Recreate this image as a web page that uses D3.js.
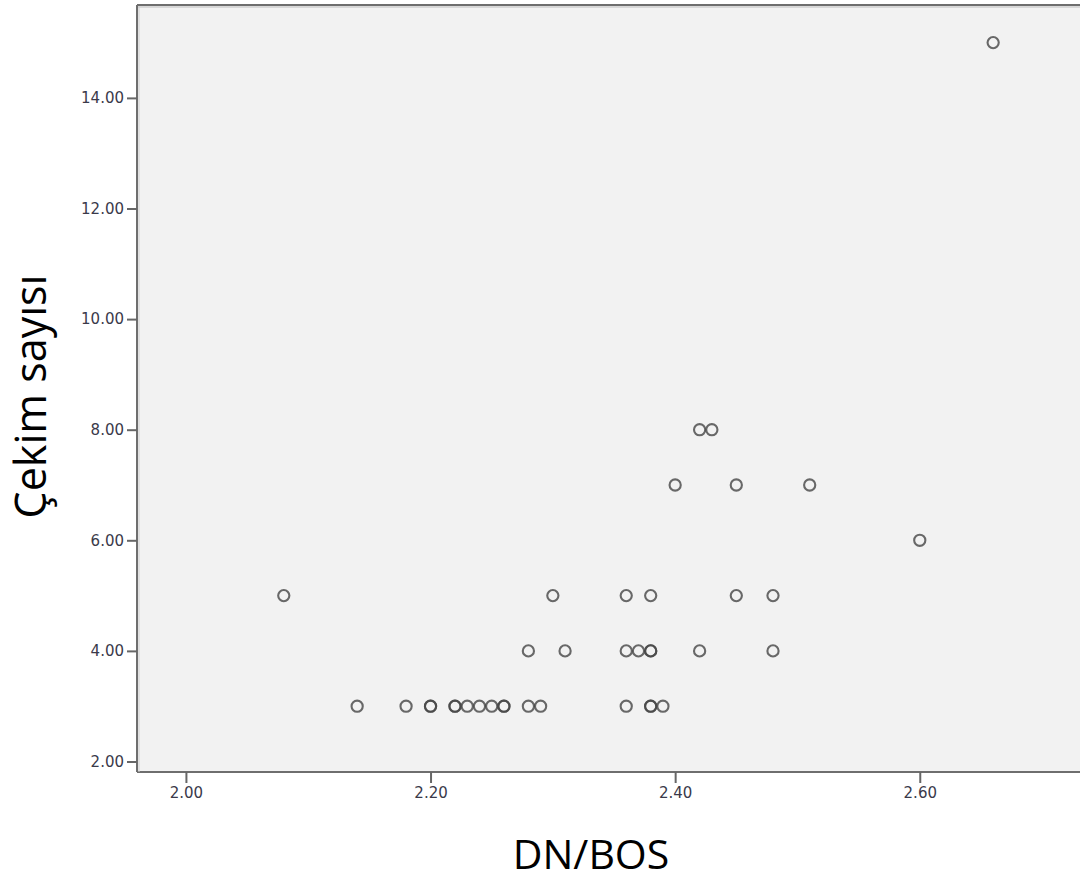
<!DOCTYPE html>
<html>
<head>
<meta charset="utf-8">
<script src="https://cdn.jsdelivr.net/npm/d3@7/dist/d3.min.js"></script>
<style>
  html, body { margin: 0; padding: 0; background: #ffffff; }
  svg { display: block; }
</style>
</head>
<body>
<svg id="chart" width="1080" height="881"></svg>
<script>
// ---- data ----
const dnBos = [
  2.14, 2.18, 2.20, 2.20, 2.22, 2.22, 2.23, 2.24, 2.25, 2.26, 2.26, 2.28, 2.29, 2.36, 2.38, 2.38, 2.39,
  2.28, 2.31, 2.36, 2.37, 2.38, 2.38, 2.42, 2.48,
  2.08, 2.30, 2.36, 2.38, 2.45, 2.48,
  2.60,
  2.40, 2.45, 2.51,
  2.42, 2.43,
  2.66
];
const cekimSayisi = [
  3, 3, 3, 3, 3, 3, 3, 3, 3, 3, 3, 3, 3, 3, 3, 3, 3,
  4, 4, 4, 4, 4, 4, 4, 4,
  5, 5, 5, 5, 5, 5,
  6,
  7, 7, 7,
  8, 8,
  15
];
const xTicks = [2.00, 2.20, 2.40, 2.60];
const yTicks = [2, 4, 6, 8, 10, 12, 14];
const xDomain = [1.96, 2.74];
const yDomain = [1.81, 15.68];
const xTitle = "DN/BOS";
const yTitle = "Çekim sayısı";

// ---- layout ----
const svg = d3.select("#chart");
const mLeft = 137, mTop = 5, mRight = 1091, mBottom = 772;

const x = d3.scaleLinear().domain(xDomain).range([mLeft, mRight]);
const y = d3.scaleLinear().domain(yDomain).range([mBottom, mTop]);

// plot background
svg.append("rect")
  .attr("x", mLeft).attr("y", mTop)
  .attr("width", mRight - mLeft).attr("height", mBottom - mTop)
  .attr("fill", "#f2f2f2");

// frame (top, left, bottom)
const frame = svg.append("g").attr("stroke", "#6e6e6e").attr("stroke-width", 2).attr("fill", "none");
frame.append("line").attr("x1", mLeft).attr("x2", mRight).attr("y1", mTop).attr("y2", mTop);
frame.append("line").attr("x1", mLeft).attr("x2", mLeft).attr("y1", mTop).attr("y2", mBottom);
frame.append("line").attr("x1", mLeft).attr("x2", mRight).attr("y1", mBottom).attr("y2", mBottom);
// soft shadow lines
svg.append("line").attr("x1", mLeft + 1).attr("x2", mRight).attr("y1", mTop + 2).attr("y2", mTop + 2)
  .attr("stroke", "#bdbdbd").attr("stroke-width", 1);
svg.append("line").attr("x1", mLeft + 2).attr("x2", mLeft + 2).attr("y1", mTop + 1).attr("y2", mBottom)
  .attr("stroke", "#cfcfcf").attr("stroke-width", 1);

const fmt = d3.format(".2f");
const tickFont = "'DejaVu Sans', Verdana, sans-serif";

// y axis
const yAxis = svg.append("g")
  .attr("transform", `translate(${mLeft},0)`)
  .call(d3.axisLeft(y).tickValues(yTicks).tickFormat(fmt).tickSize(10).tickPadding(3));
yAxis.select(".domain").remove();

// x axis
const xAxis = svg.append("g")
  .attr("transform", `translate(0,${mBottom})`)
  .call(d3.axisBottom(x).tickValues(xTicks).tickFormat(fmt).tickSize(11).tickPadding(4));
xAxis.select(".domain").remove();

[xAxis, yAxis].forEach(a => {
  a.selectAll(".tick line").attr("stroke", "#666").attr("stroke-width", 2);
  a.selectAll(".tick text")
    .attr("fill", "#3a3a4a")
    .style("font-family", tickFont)
    .style("font-size", "15px");
});

// points
svg.append("g")
  .selectAll("circle")
  .data(dnBos.map((d, i) => ({ x: d, y: cekimSayisi[i] })))
  .join("circle")
  .attr("cx", d => x(d.x))
  .attr("cy", d => y(d.y))
  .attr("r", 5.6)
  .attr("fill", "none")
  .attr("stroke", "#454545")
  .attr("stroke-opacity", 0.8)
  .attr("stroke-width", 2.1);

// axis titles
svg.append("text")
  .attr("x", 591)
  .attr("y", 869)
  .attr("text-anchor", "middle")
  .attr("fill", "#000")
  .style("font-family", "'Open Sans', Lato, sans-serif")
  .style("font-size", "41px")
  .text(xTitle);

svg.append("text")
  .attr("transform", `translate(46,${(mTop + mBottom) / 2 + 8}) rotate(-90)`)
  .attr("text-anchor", "middle")
  .attr("fill", "#000")
  .style("font-family", "'Open Sans', Lato, sans-serif")
  .style("font-size", "43px")
  .text(yTitle);
</script>
</body>
</html>
